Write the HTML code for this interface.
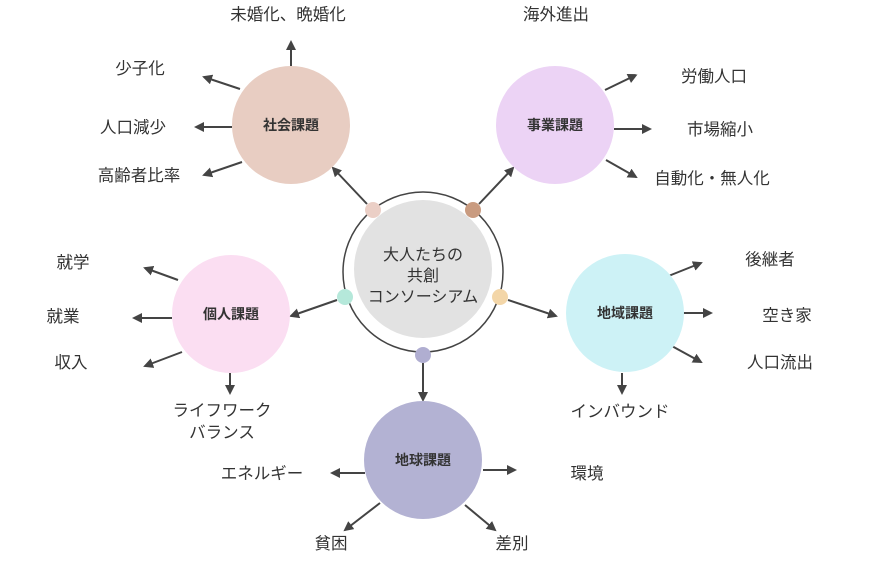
<!DOCTYPE html>
<html><head><meta charset="utf-8"><style>
body{margin:0;background:#fff;width:870px;height:558px;overflow:hidden}
text{font-family:"Liberation Sans","Noto Sans CJK JP",sans-serif;fill:#333}
</style></head><body>
<svg width="870" height="558" viewBox="0 0 870 558" xmlns="http://www.w3.org/2000/svg">
<defs><marker id="a" viewBox="0 0 10 10" refX="8" refY="5" markerWidth="5" markerHeight="5" orient="auto"><path d="M0,0L10,5L0,10z" fill="#444"/></marker></defs>
<g stroke="#444" stroke-width="2" fill="none" marker-end="url(#a)">
<line x1="291" y1="66" x2="291" y2="42"/><line x1="240" y1="89" x2="204" y2="77"/><line x1="232" y1="127" x2="196" y2="127"/><line x1="242" y1="162" x2="204" y2="175"/>
<line x1="605" y1="90" x2="636" y2="75"/><line x1="614" y1="129" x2="650" y2="129"/><line x1="606" y1="160" x2="636" y2="177"/>
<line x1="178" y1="280" x2="145" y2="268"/><line x1="172" y1="318" x2="134" y2="318"/><line x1="182" y1="352" x2="145" y2="366"/><line x1="230" y1="373" x2="230" y2="393"/>
<line x1="666" y1="277" x2="701" y2="263"/><line x1="676" y1="313" x2="711" y2="313"/><line x1="670" y1="345" x2="701" y2="362"/><line x1="622" y1="373" x2="622" y2="393"/>
<line x1="365" y1="473" x2="332" y2="473"/><line x1="483" y1="470" x2="515" y2="470"/><line x1="380" y1="503" x2="345" y2="530"/><line x1="465" y1="505" x2="495" y2="530"/>
<line x1="367" y1="204" x2="333" y2="168"/><line x1="479" y1="204" x2="513" y2="168"/><line x1="337" y1="300" x2="291" y2="316"/><line x1="508" y1="300" x2="556" y2="316"/><line x1="423" y1="363" x2="423" y2="400"/>
</g>
<circle cx="291" cy="125" r="59" fill="#e8cdc2"/>
<circle cx="555" cy="125" r="59" fill="#ecd3f5"/>
<circle cx="231" cy="314" r="59" fill="#fbdef2"/>
<circle cx="625" cy="313" r="59" fill="#cdf2f6"/>
<circle cx="423" cy="460" r="59" fill="#b3b2d3"/>
<circle cx="423" cy="272" r="80" fill="#fff" stroke="#444" stroke-width="1.5"/>
<circle cx="423" cy="269" r="69" fill="#e2e2e2"/>
<circle cx="373" cy="210" r="8" fill="#ebcfc6"/><circle cx="473" cy="210" r="8" fill="#c99b80"/>
<circle cx="345" cy="297" r="8" fill="#b5e8da"/><circle cx="500" cy="297" r="8" fill="#f3d6a8"/>
<circle cx="423" cy="355" r="8" fill="#b0aed1"/>
<g font-size="16" text-anchor="middle">
<text x="423" y="260">大人たちの</text><text x="423" y="281">共創</text><text x="423" y="302">コンソーシアム</text>
</g>
<g font-size="14" font-weight="bold" text-anchor="middle">
<text x="291" y="130">社会課題</text><text x="555" y="130">事業課題</text><text x="231" y="319">個人課題</text><text x="625" y="318">地域課題</text><text x="423" y="465">地球課題</text>
</g>
<g font-size="16.5" text-anchor="middle">
<text x="288" y="20">未婚化、晩婚化</text><text x="140" y="74">少子化</text><text x="133" y="133">人口減少</text><text x="139" y="181">高齢者比率</text>
<text x="556" y="20">海外進出</text><text x="714" y="82">労働人口</text><text x="720" y="135">市場縮小</text><text x="712" y="184">自動化・無人化</text>
<text x="73" y="268">就学</text><text x="63" y="322">就業</text><text x="71" y="368">収入</text><text x="222" y="416">ライフワーク</text><text x="222" y="438">バランス</text>
<text x="770" y="265">後継者</text><text x="787" y="321">空き家</text><text x="780" y="368">人口流出</text><text x="620" y="417">インバウンド</text>
<text x="262" y="479">エネルギー</text><text x="587" y="479">環境</text><text x="331" y="549">貧困</text><text x="512" y="549">差別</text>
</g>
</svg>
</body></html>
